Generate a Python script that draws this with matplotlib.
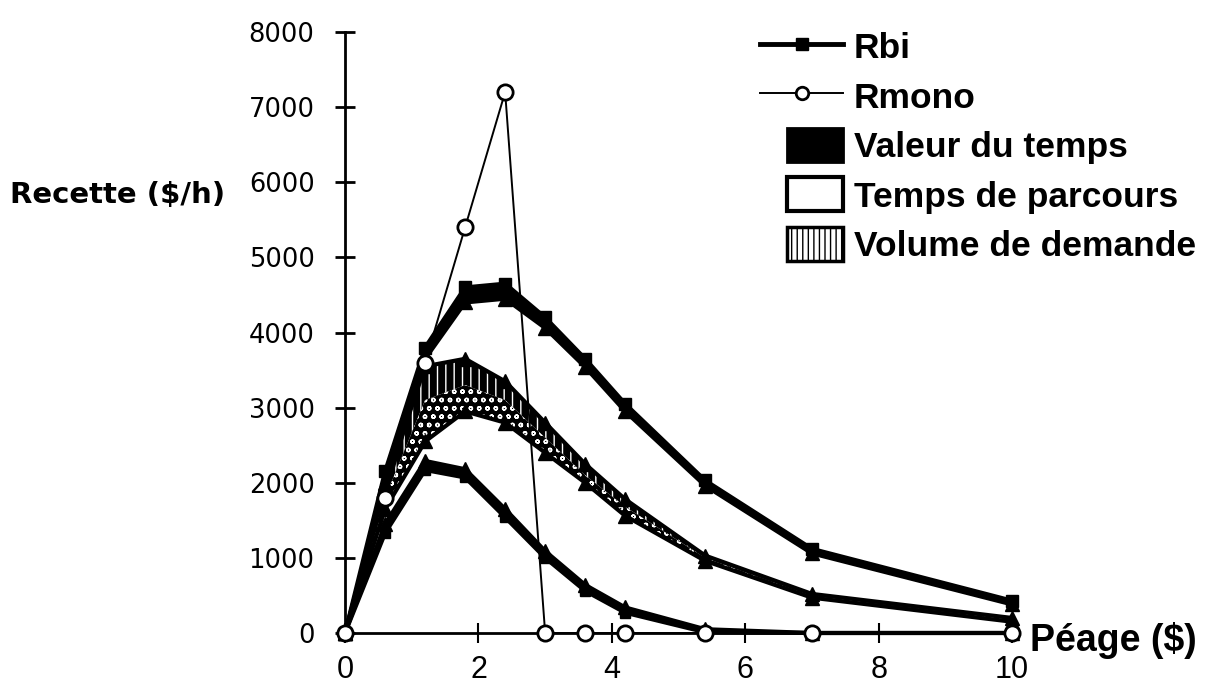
import matplotlib
matplotlib.use('Agg')
import matplotlib.pyplot as plt
from matplotlib.lines import Line2D
from matplotlib.patches import Patch, Rectangle
from matplotlib.legend_handler import HandlerPatch

# ---- data ----
peage = [0, 0.6, 1.2, 1.8, 2.4, 3.0, 3.6, 4.2, 5.4, 7.0, 10]
r_mono = [0, 1800, 3600, 5400, 7200, 0, 0, 0, 0, 0, 0]
# Rbi with 'valeur du temps' range (top band)
vt_high = [0, 2150, 3800, 4600, 4650, 4200, 3650, 3050, 2030, 1120, 430]
vt_low = [0, 2000, 3650, 4400, 4450, 4060, 3540, 2950, 1960, 1060, 380]
# 'volume de demande' / 'temps de parcours' range (middle band)
md_high = [0, 1950, 3550, 3650, 3350, 2800, 2250, 1780, 1030, 520, 200]
md_mid = [0, 1800, 3100, 3300, 3100, 2600, 2100, 1680, 1000, 495, 175]
md_low = [0, 1650, 2550, 2950, 2800, 2400, 2000, 1560, 960, 470, 150]
# lower range curve
c_high = [0, 1450, 2290, 2180, 1650, 1090, 640, 340, 50, 0, 0]
c_low = [0, 1330, 2170, 2070, 1540, 1000, 560, 270, 10, 0, 0]

xticks = [0, 2, 4, 6, 8, 10]
yticks = [0, 1000, 2000, 3000, 4000, 5000, 6000, 7000, 8000]
legend_labels = ['Rbi', 'Rmono', 'Valeur du temps', 'Temps de parcours', 'Volume de demande']

plt.rcParams['hatch.linewidth'] = 1.0
LIB = ['Liberation Sans', 'DejaVu Sans']

fig = plt.figure(figsize=(12.18, 6.93), dpi=100)
ax = fig.add_axes([0.2833, 0.0866, 0.5476, 0.8672])
ax.set_xlim(0, 10)
ax.set_ylim(0, 8000)

# middle band
ax.fill_between(peage, md_mid, md_high, facecolor='black', edgecolor='white', hatch='||', lw=0, zorder=2)
ax.fill_between(peage, md_low, md_mid, facecolor='black', edgecolor='white', hatch='oo', lw=0, zorder=2)
for ys in (md_high, md_low):
    ax.plot(peage, ys, color='black', lw=3, marker='^', ms=10, zorder=3, clip_on=False)

# top band (Rbi)
ax.fill_between(peage, vt_low, vt_high, color='black', lw=0, zorder=3)
ax.plot(peage, vt_high, color='black', lw=3, marker='s', ms=8, zorder=4, clip_on=False)
ax.plot(peage, vt_low, color='black', lw=3, marker='^', ms=10, zorder=4, clip_on=False)

# bottom band
ax.fill_between(peage, c_low, c_high, color='black', lw=0, zorder=3)
ax.plot(peage, c_high, color='black', lw=3, marker='^', ms=10, zorder=4, clip_on=False)
ax.plot(peage, c_low, color='black', lw=3, marker='s', ms=7, zorder=4, clip_on=False)

# Rmono
ax.plot(peage, r_mono, color='black', lw=1.4, marker='o', ms=11, mfc='white', mec='black',
        mew=2, zorder=6, clip_on=False)

# axes styling
for s in ('top', 'right'):
    ax.spines[s].set_visible(False)
for s in ('left', 'bottom'):
    ax.spines[s].set_linewidth(2)
    ax.spines[s].set_zorder(5)
ax.set_xticks(xticks)
ax.set_xticklabels([str(t) for t in xticks], family=LIB, fontsize=22)
ax.set_yticks(yticks)
ax.set_yticklabels([str(t) for t in yticks], family='DejaVu Sans', fontsize=18.5)
ax.tick_params(axis='y', direction='inout', length=14, width=2, pad=15)
ax.tick_params(axis='x', direction='inout', length=14, width=1.5, pad=9)

ax.set_ylabel('Recette (\\$/h)', rotation=0, ha='left', va='center', fontsize=21,
              fontweight='bold', family='DejaVu Sans')
ax.yaxis.set_label_coords(-0.502, 0.729)
ax.set_xlabel('Péage (\\$)', ha='left', va='center', fontsize=27, fontweight='bold', family=LIB)
ax.xaxis.set_label_coords(1.027, -0.012)

# legend
def box(legend, orig_handle, xdescent, ydescent, width, height, fontsize):
    w = height * 1.65
    return Rectangle((-xdescent + width - w, -ydescent), w, height)

handles = [
    Line2D([], [], color='black', lw=3.5, marker='s', ms=8),
    Line2D([], [], color='black', lw=1.4, marker='o', ms=9, mfc='white', mec='black', mew=2),
    Patch(facecolor='black', edgecolor='black', lw=2),
    Patch(facecolor='white', edgecolor='black', lw=3),
    Patch(facecolor='white', edgecolor='black', lw=2.5, hatch='|||'),
]
hm = {h: HandlerPatch(patch_func=box) for h in handles[2:]}
leg = fig.legend(handles, legend_labels, loc='upper left', bbox_to_anchor=(760 / 1218, 1 - 29 / 693),
                 frameon=False, borderpad=0, borderaxespad=0, handlelength=2.35, handleheight=1.1,
                 handletextpad=0.3, labelspacing=0.38, handler_map=hm,
                 prop={'family': LIB, 'weight': 'bold', 'size': 25.5})

fig.savefig('out.png', dpi=100, facecolor='white')
